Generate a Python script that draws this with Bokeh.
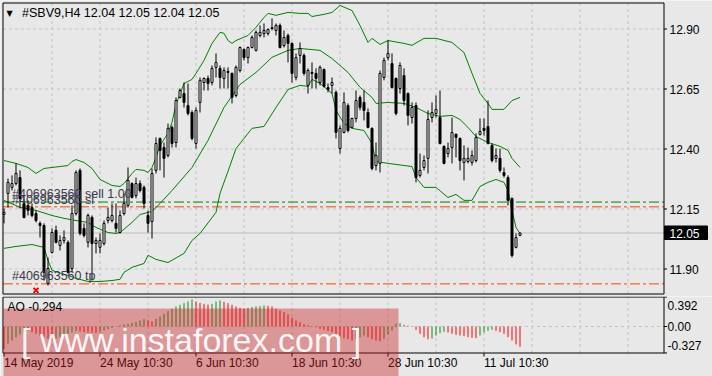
from bokeh.plotting import figure
from bokeh.models import Range1d, Label, ColumnDataSource
from bokeh.layouts import column
from bokeh.embed import file_html
from bokeh.resources import INLINE
from bokeh.core.properties import value

# ---------------- data ----------------
opens = [12.127,12.215,12.240,12.256,12.281,12.173,12.165,12.156,12.131,12.090,
         12.081,11.840,11.969,12.061,11.998,12.019,12.011,11.902,12.131,12.311,
         12.069,12.011,12.115,12.006,11.990,12.006,12.102,12.102,12.090,12.052,
         12.131,12.165,12.256,12.206,12.256,12.240,12.123,12.098,12.311,12.444,
         12.406,12.373,12.490,12.427,12.615,12.631,12.581,12.552,12.423,12.594,
         12.677,12.694,12.677,12.740,12.736,12.694,12.719,12.715,12.623,12.727,
         12.815,12.781,12.823,12.811,12.873,12.881,12.881,12.902,12.894,12.915,
         12.831,12.873,12.840,12.698,12.790,12.790,12.665,12.719,12.715,12.677,
         12.731,12.656,12.665,12.636,12.402,12.469,12.581,12.490,12.527,12.615,
         12.594,12.552,12.486,12.331,12.340,12.698,12.781,12.756,12.694,12.652,
         12.706,12.631,12.531,12.581,12.290,12.323,12.361,12.531,12.548,12.531,
         12.411,12.381,12.406,12.461,12.444,12.344,12.348,12.344,12.352,12.461,
         12.486,12.494,12.415,12.361,12.361,12.302,12.281,12.194,11.990,12.040]
highs = [12.152,12.277,12.290,12.340,12.311,12.194,12.186,12.173,12.144,12.098,
         12.090,11.948,12.069,12.081,12.040,12.061,12.019,12.165,12.311,12.319,
         12.090,12.131,12.123,12.031,12.048,12.102,12.156,12.173,12.173,12.144,
         12.215,12.323,12.261,12.281,12.269,12.248,12.144,12.319,12.448,12.448,
         12.427,12.506,12.498,12.615,12.652,12.677,12.673,12.561,12.573,12.698,
         12.698,12.706,12.748,12.798,12.748,12.740,12.740,12.719,12.748,12.827,
         12.819,12.827,12.873,12.894,12.915,12.923,12.902,12.944,12.923,12.923,
         12.894,12.881,12.844,12.798,12.844,12.798,12.736,12.761,12.736,12.748,
         12.736,12.673,12.698,12.644,12.498,12.636,12.590,12.531,12.644,12.623,
         12.644,12.569,12.490,12.427,12.727,12.781,12.852,12.798,12.698,12.761,
         12.736,12.636,12.594,12.594,12.381,12.373,12.561,12.594,12.623,12.644,
         12.415,12.427,12.531,12.465,12.448,12.415,12.406,12.394,12.465,12.527,
         12.527,12.602,12.423,12.402,12.402,12.323,12.290,12.198,12.048,12.052]
lows = [12.090,12.156,12.227,12.248,12.152,12.111,12.123,12.115,12.094,12.031,
        11.852,11.831,11.965,12.006,11.977,12.006,11.881,11.886,12.123,12.040,
        12.031,11.990,11.852,11.965,11.965,11.998,12.090,12.094,12.052,12.048,
        12.123,12.156,12.194,12.194,12.219,12.152,12.052,12.027,12.298,12.311,
        12.281,12.365,12.406,12.406,12.611,12.573,12.540,12.436,12.402,12.552,
        12.644,12.644,12.665,12.698,12.652,12.652,12.652,12.590,12.615,12.719,
        12.769,12.756,12.819,12.806,12.865,12.865,12.873,12.894,12.873,12.819,
        12.823,12.761,12.677,12.686,12.756,12.706,12.631,12.652,12.652,12.665,
        12.656,12.636,12.631,12.444,12.381,12.465,12.469,12.486,12.511,12.561,
        12.519,12.486,12.311,12.311,12.302,12.686,12.769,12.652,12.540,12.631,
        12.581,12.498,12.506,12.261,12.281,12.311,12.298,12.511,12.531,12.419,
        12.336,12.365,12.340,12.365,12.311,12.269,12.340,12.331,12.344,12.456,
        12.456,12.419,12.344,12.344,12.302,12.281,12.165,11.948,11.986,12.037]
closes = [12.136,12.261,12.256,12.298,12.194,12.115,12.144,12.123,12.102,12.081,
          11.886,11.902,12.052,12.011,12.019,12.031,11.886,12.131,12.302,12.048,
          12.040,12.123,12.006,12.019,12.019,12.090,12.115,12.123,12.069,12.123,
          12.173,12.269,12.198,12.256,12.227,12.173,12.090,12.298,12.423,12.394,
          12.361,12.486,12.423,12.602,12.644,12.594,12.548,12.444,12.561,12.686,
          12.694,12.673,12.736,12.761,12.698,12.727,12.723,12.615,12.740,12.823,
          12.781,12.823,12.865,12.886,12.886,12.894,12.898,12.906,12.915,12.823,
          12.865,12.840,12.715,12.781,12.819,12.715,12.727,12.715,12.694,12.740,
          12.661,12.648,12.677,12.469,12.486,12.594,12.477,12.527,12.602,12.573,
          12.561,12.490,12.319,12.373,12.715,12.769,12.798,12.656,12.548,12.748,
          12.602,12.540,12.573,12.281,12.311,12.352,12.523,12.552,12.565,12.423,
          12.340,12.402,12.469,12.448,12.352,12.361,12.361,12.373,12.448,12.473,
          12.477,12.423,12.352,12.373,12.311,12.290,12.186,11.956,12.031,12.050]

upper_idx = [0,3,6,8,10,12,16,17,18,20,22,24,27,29,30,32,33,35,36,37,38,39,41,42,43,45,47,48,50,52,
             54,55,56,57,58,61,63,65,66,68,71,74,76,77,80,82,84,87,89,91,92,94,96,100,102,105,108,
             112,115,117,119,121,122,125,127,129]
upper_val = [12.352,12.340,12.323,12.298,12.319,12.323,12.331,12.348,12.356,12.344,
             12.319,12.273,12.248,12.244,12.256,12.298,12.315,12.311,12.302,12.323,
             12.365,12.415,12.465,12.511,12.586,12.673,12.690,12.715,12.769,12.840,
             12.886,12.882,12.852,12.840,12.852,12.873,12.907,12.948,12.965,12.957,
             12.969,12.965,12.965,12.952,12.961,12.969,12.998,12.977,12.915,12.844,
             12.861,12.836,12.852,12.840,12.832,12.861,12.861,12.844,12.802,12.715,
             12.632,12.590,12.565,12.565,12.602,12.615]
mid_idx = [0,4,8,12,15,18,21,23,26,28,29,32,34,37,39,42,47,51,55,59,63,67,71,74,79,82,86,89,92,93,
           96,100,103,106,109,112,114,116,118,121,124,126,127,129]
mid_val = [12.186,12.157,12.144,12.123,12.111,12.102,12.094,12.073,12.052,12.048,
           12.052,12.094,12.127,12.140,12.173,12.227,12.323,12.436,12.573,12.669,
           12.719,12.782,12.811,12.819,12.811,12.777,12.719,12.657,12.615,12.590,
           12.594,12.590,12.573,12.548,12.536,12.540,12.523,12.490,12.452,12.427,
           12.411,12.394,12.361,12.323]
lower_idx = [0,3,7,10,11,12,16,18,21,24,27,29,30,32,35,36,38,41,45,47,49,53,54,56,58,60,62,65,68,71,
             74,76,77,79,82,83,85,87,90,92,93,96,102,103,105,108,111,113,115,117,119,121,123,125,
             126,127,128,129]
lower_val = [11.986,11.994,12.002,11.990,11.936,11.894,11.873,11.861,11.848,11.848,
             11.852,11.857,11.886,11.907,11.923,11.957,11.940,11.927,11.965,12.019,
             12.048,12.136,12.215,12.307,12.402,12.444,12.486,12.494,12.573,12.648,
             12.665,12.661,12.690,12.673,12.632,12.561,12.507,12.486,12.477,12.423,
             12.348,12.340,12.327,12.281,12.240,12.240,12.198,12.211,12.186,12.186,
             12.244,12.261,12.273,12.261,12.227,12.144,12.073,12.048]

ao = [-0.327,-0.252,-0.203,-0.155,-0.116,-0.082,-0.058,-0.082,-0.106,-0.131,
      -0.155,-0.179,-0.194,-0.179,-0.155,-0.131,-0.106,-0.087,-0.068,-0.072,
      -0.080,-0.086,-0.090,-0.093,-0.077,-0.058,-0.039,-0.019,0.002,0.015,
      0.029,0.039,0.053,0.068,0.087,0.106,0.087,0.073,0.111,0.145,
      0.184,0.223,0.257,0.290,0.315,0.339,0.363,0.392,0.363,0.344,
      0.329,0.319,0.329,0.363,0.378,0.358,0.339,0.315,0.290,0.271,
      0.257,0.271,0.281,0.290,0.295,0.305,0.300,0.290,0.257,0.232,
      0.208,0.174,0.126,0.087,0.063,0.034,0.019,0.005,-0.010,-0.034,
      -0.048,-0.068,-0.082,-0.121,-0.145,-0.169,-0.184,-0.203,-0.184,-0.160,
      -0.131,-0.155,-0.184,-0.203,-0.213,-0.179,-0.116,-0.058,0.039,0.048,
      0.024,0.010,-0.002,-0.048,-0.106,-0.155,-0.184,-0.175,-0.131,-0.097,
      -0.077,-0.087,-0.106,-0.121,-0.131,-0.140,-0.155,-0.165,-0.169,-0.131,
      -0.087,-0.063,-0.048,-0.063,-0.082,-0.106,-0.155,-0.203,-0.261,-0.294]

price_ticks = [11.90, 12.15, 12.40, 12.65, 12.90]
price_tick_labels = ["11.90", "12.15", "12.40", "12.65", "12.90"]
last_price = 12.05
order_open = 12.179
order_sl = 12.159
order_tp = 11.838
order_texts = ["#406963560 sell 1.00", "#406963560 sl", "#406963560 tp"]
close_mark_bar = [8]
close_mark_price = [11.811]

date_bars = [0, 24, 48, 72, 96, 120]
date_labels = ["14 May 2019", "24 May 10:30", "6 Jun 10:30", "18 Jun 10:30", "28 Jun 10:30", "11 Jul 10:30"]
grid_bars = list(range(12, 157, 12))
ao_labels = ["0.392", "0.00", "-0.327"]

# ---------------- layout helpers (pixel placement only) ----------------
BG = "#E8E8E8"
GRID = "#C4C4C4"
FONT = "Liberation Sans"
BAND = "#008000"
W, H1, H2 = 712, 296, 80
PX_PER_BAR = 4.0
PX_PER_PRICE = 240.0
PRICE_AT_TOP = 13.01875
AO_ZERO_PY = 326.0
PX_PER_AO = 68.87

def bx(px):            # canvas x pixel -> bar coordinate
    return (px - 3.5) / PX_PER_BAR
def pp(py):            # canvas y pixel -> price (upper panel)
    return PRICE_AT_TOP - py / PX_PER_PRICE
def pa(py):            # canvas y pixel -> AO value (lower panel)
    return (AO_ZERO_PY - py) / PX_PER_AO

x_range = Range1d(bx(0), bx(W))

# ================= price panel =================
p = figure(width=W, height=H1, x_range=x_range, y_range=Range1d(pp(H1), pp(0)),
           output_backend="svg", toolbar_location=None, x_axis_location=None,
           y_axis_location=None, min_border=0, background_fill_color=BG,
           border_fill_color=BG, outline_line_color=None)
p.grid.visible = False

L, R = bx(2.5), bx(663.5)
T, B = pp(2.5), pp(293.5)

# grid
p.segment(x0=grid_bars, y0=[B] * len(grid_bars), x1=grid_bars, y1=[T] * len(grid_bars),
          line_color=GRID, line_dash="3 3", line_width=1)
p.segment(x0=[L] * 5, y0=price_ticks, x1=[R] * 5, y1=price_ticks,
          line_color=GRID, line_dash="3 3", line_width=1)

# current price line and order lines
p.segment(x0=[L], y0=[last_price], x1=[R], y1=[last_price], line_color="#BDBDBD", line_width=1)
p.segment(x0=[L], y0=[order_open], x1=[R], y1=[order_open], line_color="#0A7A0A",
          line_width=1, line_dash="10 3 3 3")
p.segment(x0=[L, L], y0=[order_sl, order_tp], x1=[R, R], y1=[order_sl, order_tp],
          line_color="#FF4500", line_width=1, line_dash="10 3 3 3")

# Bollinger bands
p.line(upper_idx, upper_val, line_color=BAND, line_width=1)
p.line(mid_idx, mid_val, line_color=BAND, line_width=1)
p.line(lower_idx, lower_val, line_color=BAND, line_width=1)

# candles
idx = list(range(len(closes)))
src = ColumnDataSource(dict(
    x=idx, high=highs, low=lows,
    top=[max(o, c) for o, c in zip(opens, closes)],
    bottom=[min(o, c) for o, c in zip(opens, closes)],
    fill=["white" if c >= o else "black" for o, c in zip(opens, closes)],
))
p.segment(x0="x", y0="low", x1="x", y1="high", source=src, line_color="black", line_width=1)
p.vbar(x="x", width=0.5, top="top", bottom="bottom", source=src, fill_color="fill",
       line_color="black", line_width=1)

# order labels and closed-trade mark
p.text(x=[bx(11.5)] * 3, y=[order_open, order_sl, order_tp], text=order_texts,
       text_font=value(FONT), text_font_size="12.5px", text_color="#3A3A4A",
       text_baseline="bottom", text_align="left", y_offset=[-1, 0, -1])
p.scatter(close_mark_bar, close_mark_price, marker="x", size=7, line_color="#FF0000", line_width=2)

# frame border + price scale
p.quad(left=[L], right=[R], top=[T], bottom=[B], fill_color=None, line_color="black", line_width=1)
p.segment(x0=[R] * 5, y0=price_ticks, x1=[bx(666.5)] * 5, y1=price_ticks,
          line_color="black", line_width=1)
p.text(x=[bx(669)] * 5, y=price_ticks, text=price_tick_labels, text_font=value(FONT),
       text_font_size="12px", text_color="black", text_baseline="middle", text_align="left")

# last price tag
p.quad(left=[bx(664)], right=[bx(707)], top=[pp(225.5)], bottom=[pp(239)],
       fill_color="black", line_color="black")
p.text(x=[bx(669)], y=[last_price], text=["12.05"], text_font=value(FONT),
       text_font_size="12px", text_color="white", text_baseline="middle", text_align="left")

# header
p.add_layout(Label(x=6, y=H1 - 12.5, x_units="screen", y_units="screen", text="▼",
                   text_font="DejaVu Sans", text_font_size="8px", text_baseline="middle",
                   text_color="black"))
p.add_layout(Label(x=21.5, y=H1 - 12, x_units="screen", y_units="screen",
                   text="#SBV9,H4  12.04 12.05 12.04 12.05", text_font=FONT,
                   text_font_size="12.5px", text_baseline="middle", text_color="black"))

# ================= AO panel =================
p2 = figure(width=W, height=H2, x_range=x_range, y_range=Range1d(pa(H1 + H2), pa(H1)),
            output_backend="svg", toolbar_location=None, x_axis_location=None,
            y_axis_location=None, min_border=0, background_fill_color=BG,
            border_fill_color=BG, outline_line_color=None)
p2.grid.visible = False

T2, B2 = pa(296.5), pa(352.5)
p2.segment(x0=grid_bars, y0=[B2] * len(grid_bars), x1=grid_bars, y1=[T2] * len(grid_bars),
           line_color=GRID, line_dash="3 3", line_width=1)
p2.segment(x0=[L], y0=[0], x1=[R], y1=[0], line_color=GRID, line_dash="3 3", line_width=1)

ao_col = []
for k, v in enumerate(ao):
    ao_col.append("#FF0000" if k == 0 or v < ao[k - 1] else "#168A16")
p2.segment(x0=idx, y0=[0] * len(ao), x1=idx, y1=ao, line_color=ao_col, line_width=1)

p2.quad(left=[L], right=[R], top=[T2], bottom=[B2], fill_color=None, line_color="black", line_width=1)
p2.segment(x0=[R] * 3, y0=[T2, 0, B2], x1=[bx(666.5)] * 3, y1=[T2, 0, B2],
           line_color="black", line_width=1)
p2.text(x=[bx(667)] * 3, y=[pa(305), 0, pa(344.5)], text=ao_labels, text_font=value(FONT),
        text_font_size="12px", text_color="black", text_baseline="middle", text_align="left")

# time scale
p2.segment(x0=date_bars, y0=[B2] * 6, x1=date_bars, y1=[pa(356)] * 6, line_color="black", line_width=1)
p2.text(x=date_bars, y=[pa(362.5)] * 6, text=date_labels, text_font=value(FONT),
        text_font_size="12px", text_color="black", text_baseline="middle", text_align="left")

p2.add_layout(Label(x=7, y=H1 + H2 - 306, x_units="screen", y_units="screen", text="AO -0.294",
                    text_font=FONT, text_font_size="12px", text_baseline="middle",
                    text_color="black"))

# watermark
p2.quad(left=[bx(3)], right=[bx(398)], top=[pa(308)], bottom=[pa(376)],
        fill_color="#C81E1E", fill_alpha=0.4, line_color=None)
p2.text(x=[bx(200)], y=[pa(339)], text=["[  www.instaforex.com  ]"],
        text_font=value(FONT), text_font_size="34px",
        text_align="center", text_baseline="middle", text_color="white", text_alpha=0.92)

layout = column(p, p2, spacing=0)
open("out.html", "w").write(file_html(layout, INLINE))
